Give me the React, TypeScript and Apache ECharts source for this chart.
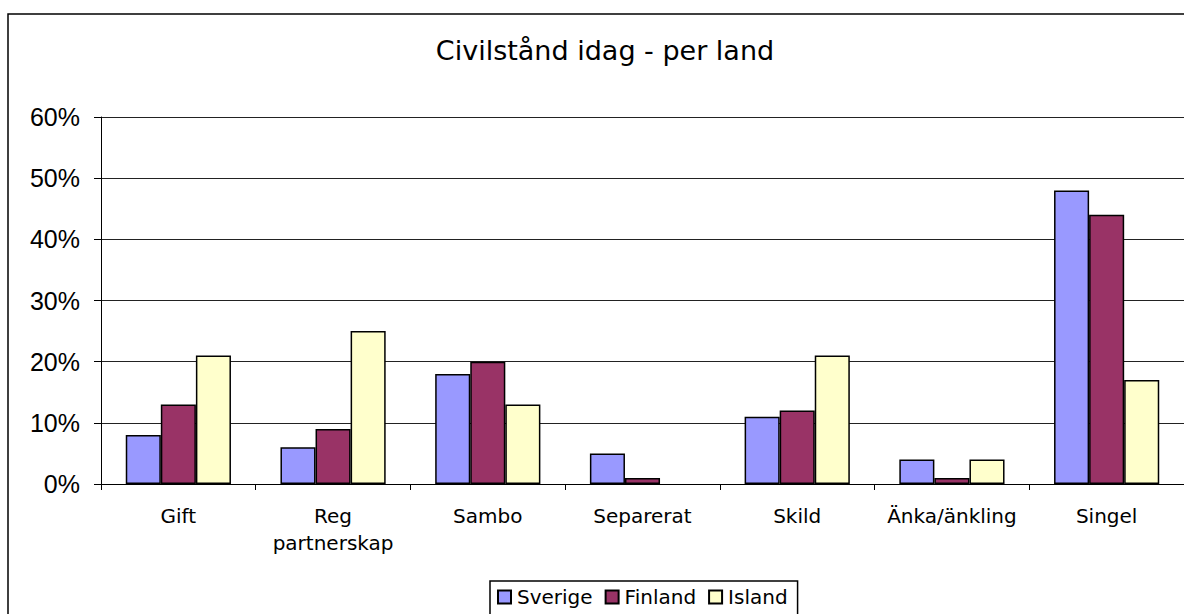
import React, { useEffect, useRef } from "react";
import * as echarts from "echarts";

// Civil status today, share of respondents per country (%)
const categories = [
  "Gift",
  "Reg\npartnerskap",
  "Sambo",
  "Separerat",
  "Skild",
  "Änka/änkling",
  "Singel",
];
const sverige = [8, 6, 18, 5, 11, 4, 48];
const finland = [13, 9, 20, 1, 12, 1, 44];
const island = [21, 25, 13, 0, 21, 4, 17];
const yTicks = [0, 10, 20, 30, 40, 50, 60];

const seriesDefs = [
  { name: "Sverige", data: sverige, color: "#9999FF" },
  { name: "Finland", data: finland, color: "#993366" },
  { name: "Island", data: island, color: "#FFFFCC" },
];

export default function App() {
  const ref = useRef<HTMLDivElement>(null);

  useEffect(() => {
    if (!ref.current) return;
    const chart = echarts.init(ref.current, null, { renderer: "svg" });
    chart.setOption({
      animation: false,
      backgroundColor: "#ffffff",
      graphic: [
        {
          type: "rect",
          shape: { x: 8, y: 14, width: 1220, height: 700 },
          style: { fill: "none", stroke: "#000", lineWidth: 1.5 },
          silent: true,
          z: 10,
        },
        {
          type: "text",
          x: 605,
          y: 50,
          style: {
            text: "Civilstånd idag - per land",
            fontFamily: "DejaVu Sans",
            fontSize: 27,
            fill: "#000",
            align: "center",
            verticalAlign: "middle",
          },
        },
      ],
      legend: {
        left: 490,
        top: 581,
        icon: "rect",
        itemWidth: 13,
        itemHeight: 13,
        itemGap: 12,
        borderColor: "#000",
        borderWidth: 1.5,
        padding: [6, 10, 30, 7],
        textStyle: {
          fontFamily: "DejaVu Sans",
          fontSize: 20,
          color: "#000",
          padding: [0, 0, 0, 1],
        },
        data: seriesDefs.map((s) => s.name),
      },
      grid: {
        left: 101,
        right: 0,
        top: 117,
        bottom: 130,
        containLabel: false,
      },
      xAxis: {
        type: "category",
        data: categories,
        axisLine: { lineStyle: { color: "#000", width: 1 } },
        axisTick: {
          show: true,
          length: 6,
          lineStyle: { color: "#000" },
        },
        axisLabel: {
          margin: 18,
          fontFamily: "DejaVu Sans",
          fontSize: 20,
          lineHeight: 27,
          color: "#000",
          interval: 0,
        },
      },
      yAxis: {
        type: "value",
        min: yTicks[0],
        max: yTicks[yTicks.length - 1],
        interval: 10,
        axisLine: { show: true, lineStyle: { color: "#000", width: 1 } },
        axisTick: { show: true, length: 7, lineStyle: { color: "#000" } },
        axisLabel: {
          margin: 21,
          fontFamily: "Liberation Sans",
          fontSize: 25,
          color: "#000",
          formatter: (v: number) => `${v}%`,
        },
        splitLine: { lineStyle: { color: "#222", width: 1 } },
      },
      series: seriesDefs.map((s) => ({
        name: s.name,
        type: "bar",
        // zero-height bars get no outline
        data: s.data.map((v) =>
          v === 0 ? { value: v, itemStyle: { borderWidth: 0 } } : v
        ),
        barGap: "0%",
        barCategoryGap: "32%",
        itemStyle: {
          color: s.color,
          borderColor: "#000",
          borderWidth: 1.5,
        },
      })),
    });
    return () => chart.dispose();
  }, []);

  return (
    <div
      ref={ref}
      style={{
        position: "absolute",
        left: 0,
        top: 0,
        width: 1184,
        height: 614,
      }}
    />
  );
}
